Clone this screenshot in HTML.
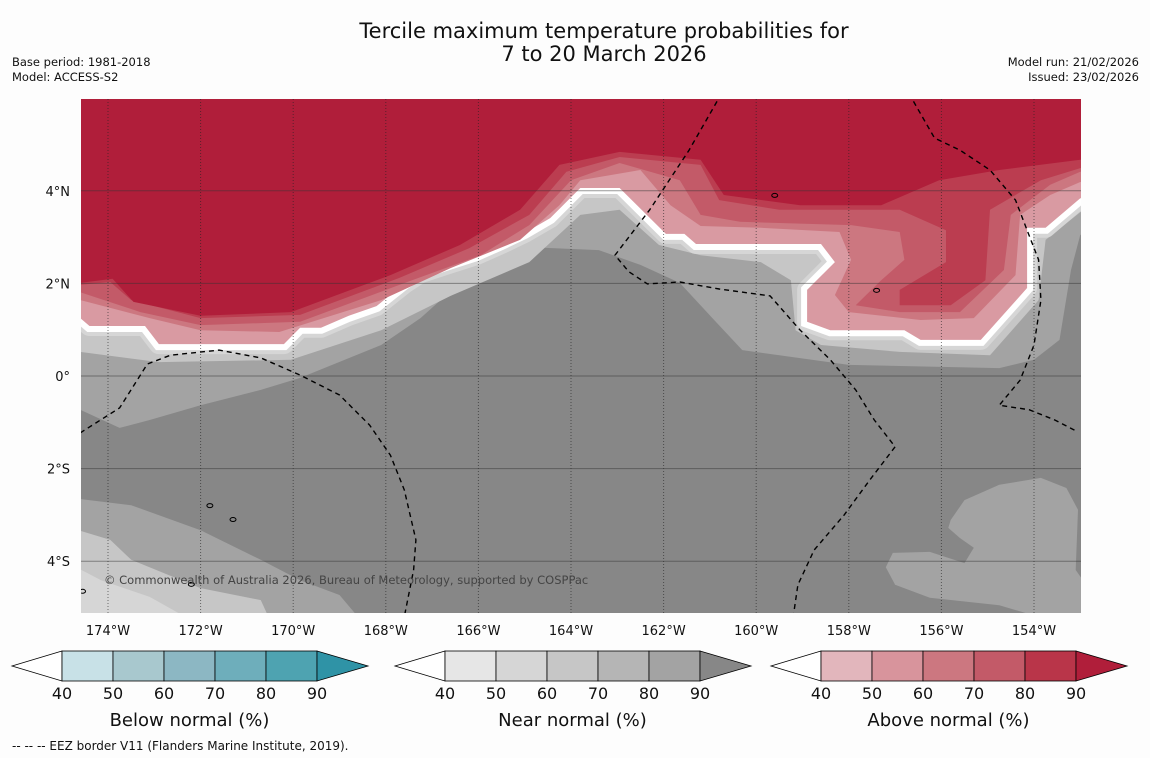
<!DOCTYPE html>
<html><head><meta charset="utf-8"><style>
html,body{margin:0;padding:0;background:#fdfdfd;}
svg{display:block;font-family:"DejaVu Sans","Liberation Sans",sans-serif;}
</style></head><body>
<svg id="chart" width="1150" height="758" viewBox="0 0 1150 758">
<defs><clipPath id="mapclip"><rect x="81" y="99" width="1000" height="514"/></clipPath></defs>
<rect width="1150" height="758" fill="#fdfdfd"/>
<text x="604" y="38" text-anchor="middle" font-size="21" fill="#111">Tercile maximum temperature probabilities for</text>
<text x="604" y="61" text-anchor="middle" font-size="21" fill="#111">7 to 20 March 2026</text>
<text x="12" y="66" font-size="11.5" fill="#111">Base period: 1981-2018</text>
<text x="12" y="81" font-size="11.5" fill="#111">Model: ACCESS-S2</text>
<text x="1139" y="66" font-size="11.5" fill="#111" text-anchor="end">Model run: 21/02/2026</text>
<text x="1139" y="81" font-size="11.5" fill="#111" text-anchor="end">Issued: 23/02/2026</text>
<g id="map" clip-path="url(#mapclip)">
<rect x="81" y="99" width="1000" height="514" fill="#878787"/>
</g>
<g id="axes"></g>
<g id="legends"></g>
<text x="12" y="750" font-size="12" fill="#111">--  --  -- EEZ border V11 (Flanders Marine Institute, 2019).</text>
</svg>
<script>
// ---- data (lon °E negative = west, lat °N) ----
const lonTicks = [-174,-172,-170,-168,-166,-164,-162,-160,-158,-156,-154];
const lonTickLabels = ["174°W","172°W","170°W","168°W","166°W","164°W","162°W","160°W","158°W","156°W","154°W"];
const latTicks = [4,2,0,-2,-4];
const latTickLabels = ["4°N","2°N","0°","2°S","4°S"];
const legendTicks = ["40","50","60","70","80","90"];
const belowColors = ["#c8e1e7","#a8c8ce","#8cb7c3","#6eaebb","#4ea3b1","#2f93a6"];
const nearColors = ["#e6e6e6","#d6d6d6","#c6c6c6","#b5b5b5","#a3a3a3","#878787"];
const aboveColors = ["#e2b6bc","#d8949c","#cc7780","#c35a68","#b93549","#b01e3a"];
const legendTitles = ["Below normal (%)","Near normal (%)","Above normal (%)"];

const near80Line = [[-174.6,-0.73],[-173.75,-1.12],[-173.1,-0.95],[-172.0,-0.63],[-170.7,-0.3],[-169.85,-0.04],[-168.1,0.67],[-167.25,1.25],[-166.4,2.01],[-165.5,2.5],[-164.6,2.77],[-163.4,2.72],[-162.5,2.4],[-161.65,2.01],[-160.9,1.2],[-160.3,0.56],[-159.5,0.45],[-158.0,0.24],[-154.75,0.17],[-154.0,0.35],[-153.45,0.78],[-153.2,2.29],[-153.0,3.05]];
const near60Line = [[-174.6,0.52],[-172.9,0.3],[-170.05,0.35],[-168.1,0.99],[-166.6,1.73],[-164.9,2.46],[-163.8,3.48],[-162.95,3.59],[-162.1,2.83],[-161.2,2.61],[-159.9,2.46],[-159.25,2.07],[-159.15,0.99],[-158.6,0.67],[-156.9,0.52],[-154.95,0.45],[-153.9,1.64],[-153.75,2.94],[-153.0,3.54]];
const pct40Line = [[-174.6,1.25],[-174.4,1.08],[-173.2,1.08],[-172.9,0.69],[-170.2,0.69],[-169.85,1.04],[-169.4,1.04],[-168.8,1.3],[-168.2,1.51],[-167.6,1.99],[-167.25,2.22],[-166.7,2.4],[-166.05,2.61],[-165.5,2.85],[-165.0,3.09],[-164.45,3.41],[-163.8,4.06],[-162.95,4.06],[-161.95,3.07],[-161.55,3.07],[-161.3,2.85],[-158.6,2.85],[-158.3,2.46],[-158.9,1.86],[-158.9,1.17],[-158.4,0.99],[-156.8,0.99],[-156.45,0.78],[-155.15,0.78],[-154.15,1.9],[-154.15,3.2],[-153.75,3.2],[-153.0,3.84]];
const above60Line = [[-174.6,1.64],[-173.1,1.25],[-172.0,0.99],[-170.3,0.95],[-168.1,1.64],[-166.6,2.33],[-165.1,2.94],[-164.25,3.69],[-163.8,4.23],[-162.5,4.45],[-161.85,3.69],[-161.2,3.24],[-159.9,3.2],[-158.2,3.11],[-157.95,2.51],[-158.3,1.75],[-158.0,1.38],[-156.45,1.21],[-155.3,1.25],[-154.4,2.18],[-154.3,3.48],[-153.65,3.91],[-153.0,4.19]];
const above70Line = [[-174.6,1.81],[-173.3,1.38],[-172.0,1.1],[-169.85,1.17],[-167.7,1.97],[-165.95,2.61],[-164.9,3.26],[-164.0,4.23],[-162.95,4.6],[-161.65,4.23],[-161.2,3.48],[-160.35,3.33],[-157.95,3.26],[-156.9,3.11],[-156.8,2.51],[-157.3,2.07],[-157.85,1.53],[-156.9,1.38],[-155.6,1.38],[-154.65,2.29],[-154.5,3.48],[-153.65,4.13],[-153.0,4.41]];
const above80Line = [[-174.6,1.97],[-173.95,2.03],[-173.5,1.64],[-172.0,1.25],[-169.85,1.32],[-167.7,2.12],[-166.2,2.76],[-164.9,3.48],[-164.1,4.41],[-162.95,4.73],[-161.2,4.56],[-160.8,3.8],[-159.5,3.59],[-156.9,3.59],[-155.9,3.15],[-155.9,2.46],[-156.9,1.86],[-156.9,1.53],[-155.8,1.53],[-155.05,2.07],[-154.95,3.59],[-153.85,4.23],[-153.0,4.49]];
const above90Line = [[-174.6,2.01],[-173.9,2.1],[-173.45,1.6],[-172.0,1.3],[-170.05,1.38],[-167.9,2.18],[-166.4,2.83],[-165.1,3.59],[-164.25,4.56],[-162.95,4.84],[-161.2,4.67],[-160.7,3.91],[-159.05,3.69],[-157.3,3.69],[-156.05,4.23],[-154.75,4.45],[-153.0,4.67]];
const southWestNear80 = [[-175,-2.61],[-173.5,-2.79],[-172.0,-3.33],[-170.7,-3.97],[-169.85,-4.41],[-169.0,-4.73],[-168.35,-5.5],[-175,-5.5]];
const southWestNear60 = [[-175,-3.22],[-173.95,-3.54],[-173.5,-3.97],[-172.0,-4.58],[-170.7,-4.84],[-170.4,-5.5],[-175,-5.5]];
const southWestNear50 = [[-175,-3.97],[-174.15,-4.41],[-173.1,-4.77],[-171.8,-5.5],[-175,-5.5]];
const southEastNear80 = [[-155.8,-3.11],[-155.5,-2.68],[-154.75,-2.35],[-153.85,-2.2],[-153.3,-2.42],[-153.05,-2.89],[-153.1,-4.19],[-152.9,-4.47],[-152.9,-5.5],[-154.75,-4.95],[-156.25,-4.79],[-157.0,-4.51],[-157.2,-4.13],[-157.05,-3.82],[-156.25,-3.8],[-155.5,-4.04],[-155.3,-3.71],[-155.6,-3.5],[-155.85,-3.28]];
const eezWest = [[-174.6,-1.23],[-173.75,-0.69],[-173.15,0.26],[-172.65,0.45],[-171.6,0.56],[-170.7,0.39],[-169.85,0.02],[-169.0,-0.41],[-168.35,-1.06],[-167.9,-1.71],[-167.6,-2.46],[-167.35,-3.54],[-167.4,-4.19],[-167.6,-5.2]];
const eezCentral = [[-160.75,6.1],[-161.45,4.88],[-162.3,3.59],[-163.05,2.61],[-162.75,2.25],[-162.35,1.99],[-161.65,2.03],[-160.8,1.88],[-159.7,1.73],[-159.05,0.99],[-158.4,0.35],[-157.85,-0.3],[-157.45,-0.95],[-157.0,-1.53],[-157.55,-2.25],[-158.1,-3.0],[-158.75,-3.76],[-159.1,-4.51],[-159.2,-5.2]];
const eezEast = [[-156.7,6.1],[-156.15,5.14],[-155.6,4.88],[-154.95,4.45],[-154.4,3.8],[-154.15,3.15],[-153.9,2.51],[-153.85,1.64],[-154.0,0.67],[-154.3,-0.09],[-154.75,-0.63],[-154.1,-0.73],[-153.55,-0.95],[-153.05,-1.21]];
const islands = [[-159.6,3.9],[-157.4,1.85],[-171.8,-2.8],[-171.3,-3.1],[-172.2,-4.5],[-174.55,-4.65]];

// ---- axis functions ----
const X = lon => 108 + (lon + 174) * 46.3;
const Y = lat => 376 - lat * 46.3;
const NS = "http://www.w3.org/2000/svg";
const map = document.getElementById('map');
const axes = document.getElementById('axes');
const legends = document.getElementById('legends');
function mk(tag, attrs, parent){ const e=document.createElementNS(NS,tag); for(const k in attrs) e.setAttribute(k,attrs[k]); parent.appendChild(e); return e; }
function pts(arr){ return arr.map(p=>X(p[0]).toFixed(1)+','+Y(p[1]).toFixed(1)).join(' '); }
function above(curve){ const f=curve[0], l=curve[curve.length-1]; return [[f[0]-2,f[1]],...curve,[l[0]+2,l[1]],[l[0]+2,9],[f[0]-2,9]]; }

function fillPoly(arr, color, name){
  const e = mk('polygon',{points:pts(arr),fill:color},map);
  
  
  return e;
}
fillPoly(southWestNear80,'#a3a3a3','southwest-near-80');
fillPoly(southWestNear60,'#c6c6c6','southwest-near-60');
fillPoly(southWestNear50,'#d6d6d6','southwest-near-50');
fillPoly(southEastNear80,'#a3a3a3','southeast-near-80');
fillPoly(above(near80Line),'#a3a3a3','near-80-region');
fillPoly(above(near60Line),'#c6c6c6','near-60-region');
const s1 = mk('polygon',{points:pts(above(pct40Line)),fill:'none',stroke:'#d6d6d6','stroke-width':20,'stroke-linejoin':'round'},map);


const s2 = mk('polygon',{points:pts(above(pct40Line)),fill:'none',stroke:'#ffffff','stroke-width':12,'stroke-linejoin':'miter'},map);


fillPoly(above(pct40Line),'#d99aa2','above-50-region');
fillPoly(above(above60Line),'#cc7780','above-60-region');
fillPoly(above(above70Line),'#c35a68','above-70-region');
fillPoly(above(above80Line),'#bb3d50','above-80-region');
fillPoly(above(above90Line),'#b01e3a','above-90-region');

// islands
islands.forEach(p=>{
  const c = mk('ellipse',{cx:X(p[0]),cy:Y(p[1]),rx:3,ry:2,fill:'none',stroke:'#000','stroke-width':1},map);
  
  
});

// gridlines
lonTicks.forEach((lon,i)=>{
  const g = mk('line',{x1:X(lon),x2:X(lon),y1:99,y2:613,stroke:'#222','stroke-width':1,'stroke-dasharray':'1,2','stroke-opacity':0.6},map);
  
  
  const t = mk('text',{x:X(lon),y:635,'text-anchor':'middle','font-size':13,fill:'#111'},axes);
  t.textContent = lonTickLabels[i];
  
  
});
latTicks.forEach((lat,i)=>{
  const g = mk('line',{x1:81,x2:1081,y1:Y(lat),y2:Y(lat),stroke:'#333','stroke-width':1,'stroke-opacity':0.5},map);
  
  
  const t = mk('text',{x:70,y:Y(lat)+5,'text-anchor':'end','font-size':13,fill:'#111'},axes);
  t.textContent = latTickLabels[i];
  
  
});
// EEZ lines
[[eezWest,'eez-border-west'],[eezCentral,'eez-border-central'],[eezEast,'eez-border-east']].forEach(([arr,n])=>{
  const l = mk('polyline',{points:pts(arr),fill:'none',stroke:'#000','stroke-width':1.4,'stroke-dasharray':'5,4'},map);
  
  
});
const cp = mk('text',{x:104,y:584,'font-size':11.5,fill:'#444'},map);
cp.textContent = '© Commonwealth of Australia 2026, Bureau of Meteorology, supported by COSPPac';



// legends
const legendLeft = [62, 445, 821];
const legendColorSets = [belowColors, nearColors, aboveColors];
legendLeft.forEach((x0,k)=>{
  const cols = legendColorSets[k], w = 51, y0 = 651, h = 30;
  const tri = mk('polygon',{points:`${x0},${y0} ${x0-50},${y0+h/2} ${x0},${y0+h}`,fill:'#fff',stroke:'#000','stroke-width':0.8},legends);
  
  
  for(let i=0;i<5;i++){
    const r = mk('rect',{x:x0+i*w,y:y0,width:w,height:h,fill:cols[i],stroke:'#000','stroke-width':0.8},legends);
    
    
  }
  const tri2 = mk('polygon',{points:`${x0+5*w},${y0} ${x0+5*w+51},${y0+h/2} ${x0+5*w},${y0+h}`,fill:cols[5],stroke:'#000','stroke-width':0.8},legends);
  
  
  legendTicks.forEach((lab,i)=>{
    const t = mk('text',{x:x0+i*w,y:699,'text-anchor':'middle','font-size':16,fill:'#111'},legends);
    t.textContent = lab;
    
    
  });
  const tt = mk('text',{x:x0+2.5*w,y:726,'text-anchor':'middle','font-size':18,fill:'#111'},legends);
  tt.textContent = legendTitles[k];
  
  
});
</script>
</body></html>
